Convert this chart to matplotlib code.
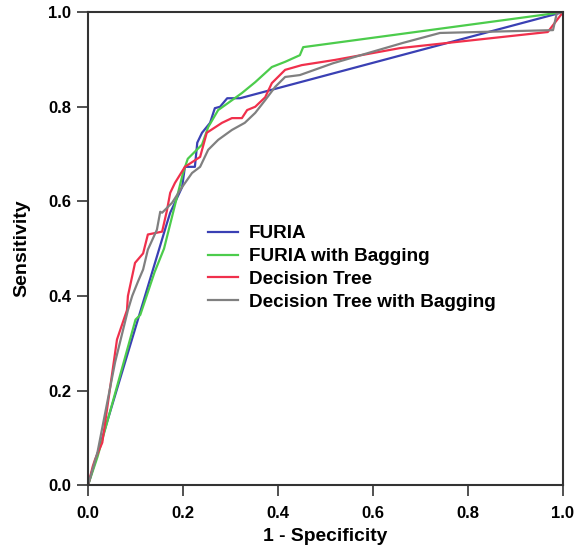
import matplotlib
matplotlib.use("Agg")
import matplotlib.pyplot as plt

# ROC curves (1 - specificity, sensitivity)
furia_x = [0.0, 0.165, 0.173, 0.198, 0.204, 0.225, 0.23, 0.24, 0.257, 0.267, 0.278, 0.293, 0.32, 1.0]
furia_y = [0.0, 0.55, 0.576, 0.63, 0.673, 0.673, 0.724, 0.745, 0.766, 0.797, 0.80, 0.818, 0.818, 1.0]

furia_bag_x = [0.0, 0.02, 0.10, 0.11, 0.14, 0.16, 0.18, 0.20, 0.21, 0.24, 0.253, 0.274, 0.295,
               0.324, 0.352, 0.387, 0.415, 0.446, 0.453, 1.0]
furia_bag_y = [0.0, 0.06, 0.35, 0.36, 0.45, 0.50, 0.58, 0.66, 0.69, 0.72, 0.757, 0.793, 0.808,
               0.829, 0.852, 0.884, 0.895, 0.909, 0.926, 1.0]

tree_x = [0.0, 0.01, 0.015, 0.03, 0.061, 0.082, 0.084, 0.099, 0.116, 0.126, 0.156, 0.166,
          0.173, 0.183, 0.204, 0.236, 0.25, 0.282, 0.303, 0.324, 0.335, 0.352, 0.373, 0.387,
          0.415, 0.45, 0.52, 0.657, 0.968, 1.0]
tree_y = [0.0, 0.04, 0.055, 0.09, 0.308, 0.37, 0.40, 0.47, 0.49, 0.53, 0.536, 0.58,
          0.618, 0.639, 0.673, 0.694, 0.745, 0.766, 0.776, 0.776, 0.793, 0.80, 0.82, 0.85,
          0.878, 0.888, 0.899, 0.924, 0.958, 1.0]

tree_bag_x = [0.0, 0.02, 0.057, 0.084, 0.093, 0.105, 0.116, 0.126, 0.145, 0.152, 0.156, 0.177,
              0.198, 0.219, 0.236, 0.253, 0.274, 0.303, 0.33, 0.352, 0.373, 0.394, 0.415,
              0.446, 0.516, 0.663, 0.741, 0.979, 0.987, 1.0]
tree_bag_y = [0.0, 0.07, 0.26, 0.37, 0.40, 0.43, 0.456, 0.498, 0.54, 0.578, 0.576, 0.597,
              0.63, 0.66, 0.673, 0.709, 0.73, 0.751, 0.766, 0.787, 0.814, 0.842, 0.863,
              0.867, 0.892, 0.935, 0.956, 0.962, 0.998, 1.0]

labels = ["FURIA", "FURIA with Bagging", "Decision Tree", "Decision Tree with Bagging"]
colors = ["#3a40b4", "#4ccc4c", "#f0304c", "#808080"]

plt.rcParams["font.family"] = ["Liberation Sans", "DejaVu Sans"]
plt.rcParams["font.weight"] = "bold"

fig = plt.figure(figsize=(5.81, 5.52), dpi=100)
ax = fig.add_axes([0.1515, 0.121, 0.8175, 0.857])

curves = [(furia_x, furia_y), (furia_bag_x, furia_bag_y), (tree_x, tree_y), (tree_bag_x, tree_bag_y)]
for (xs, ys), lab, col in zip(curves, labels, colors):
    ax.plot(xs, ys, color=col, lw=1.6, label=lab)

ax.set_xlim(0, 1)
ax.set_ylim(0, 1)
ticks = [0.0, 0.2, 0.4, 0.6, 0.8, 1.0]
ax.set_xticks(ticks)
ax.set_yticks(ticks)
ax.set_xticklabels([f"{t:.1f}" for t in ticks], fontsize=12, fontweight="bold")
ax.set_yticklabels([f"{t:.1f}" for t in ticks], fontsize=12, fontweight="bold")
ax.tick_params(direction="out", length=8, width=1.2, color="#333333", pad=4)
ax.tick_params(axis="x", pad=7)
for s in ax.spines.values():
    s.set_color("#333333")
    s.set_linewidth(1.5)

ax.set_xlabel("1 - Specificity", fontsize=13.9, fontweight="bold", labelpad=5)
ax.set_ylabel("Sensitivity", fontsize=14, fontweight="bold", labelpad=13)

leg = ax.legend(loc="upper left", bbox_to_anchor=(0.2526, 0.55), frameon=False,
                prop={"size": 13.6, "weight": "bold"}, handlelength=1.6,
                labelspacing=0.3, handletextpad=0.55, borderpad=0, borderaxespad=0)

fig.savefig("out.png", dpi=100)
